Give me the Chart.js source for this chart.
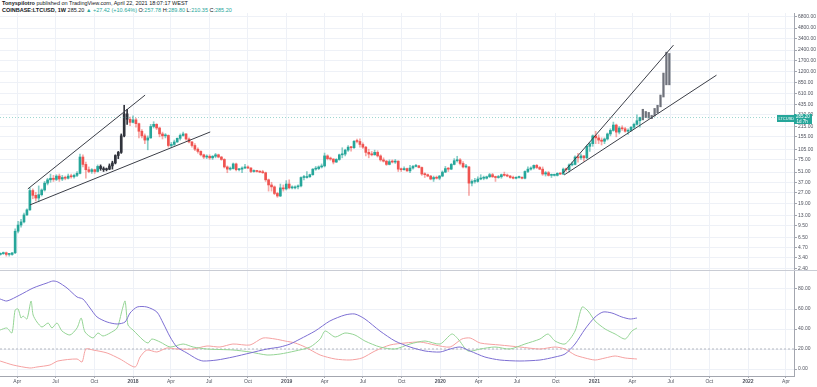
<!DOCTYPE html>
<html>
<head>
<meta charset="utf-8">
<script src="https://cdn.jsdelivr.net/npm/chart.js@4.4.1/dist/chart.umd.min.js"></script>
<style>
  body { margin: 0; background: #fff; width: 817px; height: 387px; overflow: hidden; position: relative;
         font-family: "Liberation Sans", Arial, sans-serif; }
  #head { position: absolute; left: 2px; top: 0; font-size: 5.5px; line-height: 7px; color: #131722; white-space: nowrap; }
  #head .v { color: #26a69a; }
  #price { position: absolute; left: 0; top: 13px; }
  #dmi { position: absolute; left: 0; top: 270px; }
</style>
</head>
<body>
<div id="head">
  <div><b>Tonyspilotro</b> published on TradingView.com, April 22, 2021 18:07:17 WEST</div>
  <div><b>COINBASE:LTCUSD, 1W</b> 285.20 <span class="v">▲ +27.42 (+10.64%)</span> O:<span class="v">257.78</span> H:<span class="v">289.80</span> L:<span class="v">210.35</span> C:<span class="v">285.20</span></div>
</div>
<canvas id="price" width="817" height="257"></canvas>
<canvas id="dmi" width="817" height="117"></canvas>
<script>
// weekly candles, first one is the week of 2017-02-20
const firstCandle = '2017-02-20';
const opens = [
  3.8,3.9,4.0,3.8,3.8,4.0,7.9,9.6,10.6,13.2,
  15.5,28.5,24.5,22.5,25,29,36,40,42,40.5,
  45,41,43,42,45,44,46,49,82,65,
  55,52,55,52,61,57,55,56,62,68,
  86,95,160,320,270,245,265,235,185,160,
  140,150,215,230,205,170,160,162,118,122,
  132,148,162,170,145,132,118,105,98,88,
  82,84,80,84,88,82,76,60,56,57,
  66,55,56,58,60,58,52,53,52,51,
  50,40,34,32,26,24,31,30,35,31,
  31,32,33,43,43,44,47,56,57,60,
  62,85,78,77,70,76,88,90,102,112,
  110,135,134,122,112,95,90,88,95,85,
  75,72,65,71,70,72,56,55,57,53,
  58,61,62,59,48,47,45,41,43,42,
  45,51,57,56,65,73,75,67,60,60,
  36,38,38,41,42,42,44,47,44,43,
  44,47,46,45,43,42,43,43,42,52,
  56,58,63,59,56,48,50,46,46,46,
  49,48,56,55,64,65,82,80,85,80,
  115,125,160,150,140,135,145,170,190,225,
  180,205,200,185,190,210,230,257.78
];
const highs = [
  4.0,4.1,4.1,3.9,4.0,8.5,10.8,11.5,14.0,16.0,
  31,30,27,33,30,38,42,48,46,47,
  48,46,45,48,48,48,52,90,88,70,
  60,57,56,64,64,60,58,66,72,88,
  98,170,420,370,290,300,280,240,195,170,
  160,230,250,235,210,180,172,165,130,140,
  150,170,180,172,150,135,125,110,100,90,
  88,88,86,92,90,84,78,62,60,68,
  68,57,60,65,62,59,55,54,53,54,
  51,41,37,33,27,35,34,39,40,33,
  33,34,44,46,52,48,57,61,62,66,
  93,88,82,78,78,90,110,105,118,115,
  138,145,146,128,115,105,98,102,100,88,
  80,74,75,75,76,73,58,60,58,63,
  63,65,63,60,50,48,46,45,45,46,
  53,61,59,67,78,84,78,71,65,61,
  40,42,44,47,45,45,49,49,45,46,
  48,51,48,46,45,44,45,44,53,60,
  60,64,65,61,60,52,52,48,48,50,
  50,58,58,66,70,85,92,90,86,120,
  130,165,185,165,150,150,175,200,247,232,
  215,220,210,200,215,240,310,289.8
];
const lows = [
  3.7,3.8,3.6,3.6,3.7,3.9,7.5,9.0,10.3,13.0,
  15.2,22,20.5,20,24,28,34,37,38,39,
  38,39,40,41,42,42,44,48,60,42,
  50,49,49,51,54,52,53,55,56,66,
  78,92,155,230,220,240,210,150,150,125,
  103,148,205,195,155,145,150,112,110,118,
  130,140,158,140,128,112,100,93,85,78,
  78,76,76,80,80,74,58,50,54,56,
  53,53,50,57,57,50,51,51,50,49,
  38,28,28,25,23,23.5,28,29,30,30,
  30,30,32,40,42,43,46,54,55,58,
  60,75,74,66,69,74,80,85,98,99,
  108,128,112,108,85,80,85,87,82,72,
  70,63,64,68,67,52,52,54,52,50,
  56,60,58,46,43,44,40,38,41,40,
  44,50,52,55,64,70,64,58,58,24.5,
  33,36,37,40,40,41,43,43,38,42,
  42,45,44,42,41,41,42,41,41,50,
  54,56,57,55,46,45,45,43,45,45,
  47,47,52,51,62,64,70,76,72,78,
  98,115,125,125,120,125,140,160,185,155,
  170,190,180,168,185,200,225,210.35
];
const closes = [
  3.9,4.0,3.8,3.8,4.0,7.9,9.6,10.6,13.2,15.5,
  28.5,24.5,22.5,25,29,36,40,42,40.5,45,
  41,43,42,45,44,46,49,82,65,55,
  52,55,52,61,57,55,56,62,68,86,
  95,160,320,270,245,265,235,185,160,140,
  150,215,230,205,170,160,162,118,122,132,
  148,162,170,145,132,118,105,98,88,82,
  84,80,84,88,82,76,60,56,57,66,
  55,56,58,60,58,52,53,52,51,50,
  40,34,32,26,24,31,30,35,31,31,
  32,33,43,43,44,47,56,57,60,62,
  85,78,77,70,76,88,90,102,112,110,
  135,134,122,112,95,90,88,95,85,75,
  72,65,71,70,72,56,55,57,53,58,
  61,62,59,48,47,45,41,43,42,45,
  51,57,56,65,73,75,67,60,60,36,
  38,38,41,42,42,44,47,44,43,44,
  47,46,45,43,42,43,43,42,52,56,
  58,63,59,56,48,50,46,46,46,49,
  48,56,55,64,65,82,80,85,80,115,
  125,160,150,140,135,145,170,190,225,180,
  205,200,185,190,210,230,257.78,285.2
];

// bars pattern: 2017 source range and its projected copy after the last candle
const patternFrom = '2017-10-16', patternTo = '2017-12-18';
const projFirst = '2021-04-26';
const projLows  = [265,285,280,275,300,330,400,545,800,800];
const projHighs = [370,345,335,305,380,420,580,1160,2240,2150];

// drawn trend lines: [week, price] endpoints
const trendLines = [
  [[16.3, 30],   [56.1, 579]],
  [[17.0, 18.1], [78.2, 181]],
  [[197.9, 49.5],[235.4, 2800]],
  [[198.3, 46.6],[250.0, 1085]]
];

// price and time axis ticks
const priceTicks = [2.4,3.4,4.7,6.5,9.5,13,19,27,37,51,75,105,155,215,310,435,610,850,1200,1700,2400,3400,4800,6800];
const timeTicks = ['2017-04-01','2017-07-01','2017-10-01','2018-01-01','2018-04-01','2018-07-01','2018-10-01',
  '2019-01-01','2019-04-01','2019-07-01','2019-10-01','2020-01-01','2020-04-01','2020-07-01','2020-10-01',
  '2021-01-01','2021-04-01','2021-07-01','2021-10-01','2022-01-01','2022-04-01'];
const timeLabels = ['Apr','Jul','Oct','2018','Apr','Jul','Oct','2019','Apr','Jul','Oct','2020','Apr','Jul','Oct',
  '2021','Apr','Jul','Oct','2022','Apr'];

// DMI pane (weeks since 2017-01-02, value)
const adxWeeks = [6.9,9.2,13.6,18.1,22.8,24.8,26.5,29.6,33.0,35.0,37.4,39.8,43.2,46.6,49.3,51.0,53.4,56.7,60.1,62.2,64.6,66.9,70.3,73.7,75.8,80.5,85.9,91.7,97.5,101.9,105.3,108.7,113.8,118.8,123.9,127.3,130.7,135.8,140.9,146.0,151.1,156.2,159.6,163.0,166.4,171.4,176.5,183.3,190.1,195.2,198.6,202.0,205.4,208.8,211.5,214.5,217.9,220.7,223.0];
const adxValues = [70,68,74,81,86,88,87,81,72,70,61,52,47,45,47,56,62,62,57,46,32,22,16,10,8,9,12,16,20,22,25,30,38,48,54,55,50,38,28,22,18,17,20,22,18,12,9,8,9,12,15,25,40,52,57,56,52,50,51];
const plusWeeks = [6.9,9.2,10.9,12.0,13.0,14.0,14.7,16.0,17.4,18.1,19.4,21.1,23.2,24.5,26.2,27.9,30.6,33.0,34.4,35.7,38.4,40.1,41.8,44.2,46.6,48.3,49.3,50.3,52.0,55.4,57.1,58.4,61.2,64.6,69.0,72.4,77.1,85.9,91.7,97.5,101.9,107.0,112.1,115.5,117.2,120.6,123.9,127.3,130.7,135.8,140.9,146.0,151.1,156.2,160.2,162.3,165.7,169.8,174.8,179.9,185.0,190.1,192.8,195.2,198.6,202.0,204.4,206.4,208.8,212.2,215.6,219.0,221.3,223.0];
const plusValues = [39,41,36,59,60,51,53,50,68,54,47,42,46,41,46,38,34,41,51,37,31,36,33,36,41,59,68,44,39,29,26,30,27,22,25,22,20,19,17,14,15,18,22,30,38,32,36,34,28,22,20,25,28,25,35,30,18,20,22,20,25,30,35,28,25,38,62,58,48,40,35,30,38,41];
const minusWeeks = [6.9,11.3,17.0,19.4,23.8,26.5,33.0,34.7,36.0,38.4,43.2,47.6,52.7,54.4,56.7,60.1,63.5,66.9,72.4,77.1,81.5,85.9,91.7,96.1,100.2,103.6,107.0,110.4,115.5,120.6,125.6,129.7,134.1,139.2,144.3,149.4,154.5,159.6,163.6,166.4,169.8,176.5,183.3,190.1,195.2,198.6,202.0,205.4,208.8,212.2,215.6,219.0,223.0];
const minusValues = [8,4,1,2,4,8,10,7,20,19,16,10,2,12,19,17,21,20,20,23,22,25,24,31,30,28,26,22,14,10,9,11,18,24,26,27,24,22,30,31,26,24,22,20,22,20,14,11,9,11,13,11,10];
const dmiLevel = 20;
const dmiTicks = [0, 20, 40, 60, 80];

// ---- helpers ----
const origin = Date.parse('2017-01-02');
const weekOf = d => (Date.parse(d) - origin) / (7 * 864e5);
const xMin = 6.86, xMax = 276.3;        // visible time window (weeks)
const FONT = '"Liberation Sans", Arial, sans-serif';
const GRID = '#eef1f7', AXIS = '#a3a6af', TXT = '#50535e';
const UP = '#26a69a', DOWN = '#ef5350';

const w0 = weekOf(firstCandle);
const candleWeeks = closes.map((c, i) => w0 + i);
const pFrom = weekOf(patternFrom), pTo = weekOf(patternTo);
const inPattern = w => w >= pFrom - 0.01 && w <= pTo + 0.01;
const bodyColor = candleWeeks.map((w, i) => inPattern(w) ? '#30333c' : (closes[i] >= opens[i] ? UP : DOWN));
const wickColor = candleWeeks.map((w, i) => inPattern(w) ? '#30333c' : (closes[i] >= opens[i] ? 'rgba(38,166,154,0.55)' : 'rgba(239,83,80,0.5)'));
const tickWeeks = timeTicks.map(weekOf);
const lastClose = closes[closes.length - 1];

Chart.defaults.font.family = FONT;

const timeAxis = (show) => ({
  type: 'linear', min: xMin, max: xMax, offset: false,
  afterBuildTicks: s => { s.ticks = tickWeeks.map(v => ({ value: v })); },
  ticks: {
    display: show, autoSkip: false, maxRotation: 0, padding: 1, color: TXT,
    font: ctx => ({ size: 5, family: FONT, weight: /^\d/.test(timeLabels[ctx.index]) ? 'bold' : 'normal' }),
    callback: (v, i) => timeLabels[i]
  },
  grid: { color: GRID, offset: false, drawTicks: show, tickLength: 2, tickColor: AXIS },
  border: { display: show, color: AXIS },
  afterFit: s => { s.height = show ? 11 : 0; s.paddingLeft = 0; s.paddingRight = 0; }
});

const priceLabel = {
  id: 'priceLabel',
  afterDraw(chart) {
    const { ctx, chartArea, scales } = chart;
    const py = Math.round(scales.y.getPixelForValue(lastClose));
    const r = chartArea.right;
    ctx.save();
    ctx.fillStyle = UP;
    ctx.fillRect(r - 17, py - 3, 17, 7);
    ctx.fillRect(r, py - 4, 18, 10);
    ctx.fillStyle = '#fff';
    ctx.textBaseline = 'middle';
    ctx.font = '4px ' + FONT;
    ctx.fillText('LTCUSD', r - 15.5, py + 0.5);
    ctx.font = '4.5px ' + FONT;
    ctx.fillText(lastClose.toFixed(2), r + 2, py - 1);
    ctx.fillText('1d 7h', r + 2.5, py + 3.5);
    ctx.restore();
  }
};

new Chart(document.getElementById('price'), {
  type: 'bar',
  data: {
    datasets: [
      ...trendLines.map(t => ({
        type: 'line', data: t.map(p => ({ x: p[0], y: p[1] })),
        borderColor: '#3b3e47', borderWidth: 1, pointRadius: 0, tension: 0
      })),
      {
        type: 'line', data: [{ x: xMin, y: lastClose }, { x: xMax, y: lastClose }],
        borderColor: 'rgba(38,166,154,0.45)', borderWidth: 1, borderDash: [1, 2], pointRadius: 0
      },
      {
        data: projLows.map((l, i) => ({ x: weekOf(projFirst) + i, y: [l, projHighs[i]] })),
        backgroundColor: '#6f727b', barThickness: 1.6, grouped: false, minBarLength: 1
      },
      {
        data: candleWeeks.map((w, i) => ({ x: w, y: [Math.min(opens[i], closes[i]), Math.max(opens[i], closes[i])] })),
        backgroundColor: bodyColor, barThickness: 2, grouped: false, minBarLength: 1
      },
      {
        data: candleWeeks.map((w, i) => ({ x: w, y: [lows[i], highs[i]] })),
        backgroundColor: wickColor, barThickness: 1, grouped: false
      }
    ]
  },
  options: {
    responsive: false, animation: false, events: [],
    layout: { padding: 0 },
    plugins: { legend: { display: false }, tooltip: { enabled: false } },
    scales: {
      x: timeAxis(false),
      y: {
        type: 'logarithmic', position: 'right', min: 2.325, max: 7711,
        afterBuildTicks: s => { s.ticks = priceTicks.map(v => ({ value: v })); },
        ticks: { autoSkip: false, padding: 1, color: TXT, font: { size: 5 }, callback: v => Number(v).toFixed(2) },
        grid: { color: GRID, tickLength: 3, tickColor: AXIS },
        border: { color: AXIS },
        afterFit: s => { s.width = 23; s.paddingTop = 0; s.paddingBottom = 0; }
      }
    }
  },
  plugins: [priceLabel]
});

const paneTop = {
  id: 'paneTop',
  afterDraw(chart) {
    const { ctx, chartArea } = chart;
    ctx.save();
    ctx.strokeStyle = '#c9ccd4';
    ctx.lineWidth = 1;
    ctx.beginPath();
    ctx.moveTo(0, chartArea.top + 0.5);
    ctx.lineTo(chart.width, chartArea.top + 0.5);
    ctx.stroke();
    ctx.restore();
  }
};

const dmiLine = (weeks, values, color) => ({
  type: 'line', data: weeks.map((w, i) => ({ x: w, y: values[i] })),
  borderColor: color, borderWidth: 1, pointRadius: 0, tension: 0.25
});

new Chart(document.getElementById('dmi'), {
  type: 'line',
  data: {
    datasets: [
      dmiLine(adxWeeks, adxValues, '#7d6fd3'),
      dmiLine(plusWeeks, plusValues, '#94d494'),
      dmiLine(minusWeeks, minusValues, '#f5a1a1'),
      {
        data: [{ x: xMin, y: dmiLevel }, { x: xMax, y: dmiLevel }],
        borderColor: '#b4b7bf', borderWidth: 1, borderDash: [2, 2], pointRadius: 0
      }
    ]
  },
  options: {
    responsive: false, animation: false, events: [],
    layout: { padding: 0 },
    plugins: { legend: { display: false }, tooltip: { enabled: false } },
    scales: {
      x: timeAxis(true),
      y: {
        type: 'linear', position: 'right', min: -7, max: 99,
        afterBuildTicks: s => { s.ticks = dmiTicks.map(v => ({ value: v })); },
        ticks: { autoSkip: false, padding: 1, color: TXT, font: { size: 5 }, callback: v => Number(v).toFixed(2) },
        grid: { color: GRID, tickLength: 3, tickColor: AXIS },
        border: { color: AXIS },
        afterFit: s => { s.width = 23; s.paddingTop = 0; s.paddingBottom = 0; }
      }
    }
  },
  plugins: [paneTop]
});
</script>
</body>
</html>
